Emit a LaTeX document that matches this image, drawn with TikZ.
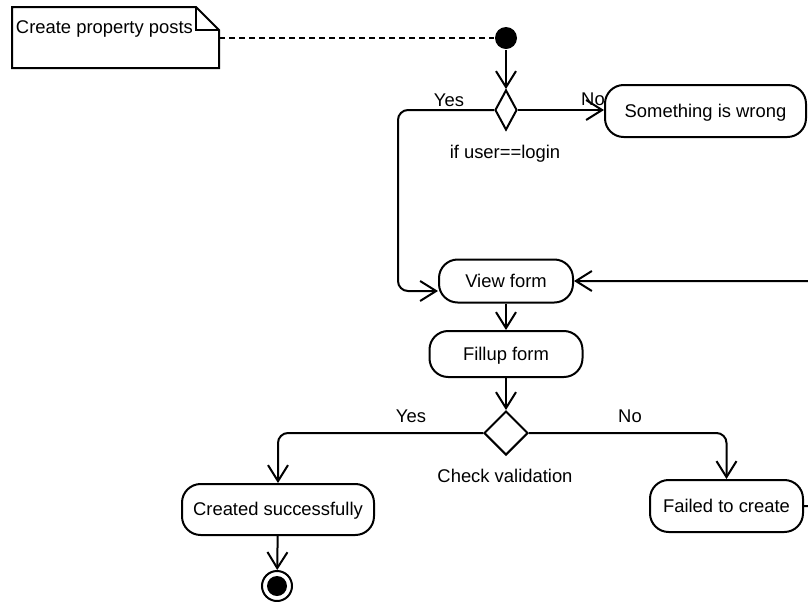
\documentclass[tikz,border=0pt]{standalone}
\usepackage{fontspec}
\setmainfont{Liberation Sans}
\usetikzlibrary{shapes.geometric,arrows.meta,calc}

\tikzset{every picture/.style={line width=1.5pt}}
\tikzset{
  act/.style={draw, fill=white, rounded corners=14pt, inner sep=0pt, text height=10pt, text depth=0.5pt, font=\fontsize{13.8}{16}\selectfont},
  choice/.style={diamond, draw, fill=white, inner sep=0pt},
  lbl/.style={inner sep=0.75pt, font=\fontsize{13.8}{16}\selectfont},
  flow/.style={-{Straight Barb[length=12pt,width=15pt]}, rounded corners=7.5pt}
}

\begin{document}
\begin{tikzpicture}[x=0.75pt,y=0.75pt,yscale=-1,xscale=1]
			\useasboundingbox (0,0) rectangle (808,601);
			\clip (0,0) rectangle (808,601);

			%Shape: Note
			\draw  [fill=white] (12,7) -- (196,7) -- (219,30) -- (219,68) -- (12,68) -- cycle ;
			\draw   (196,7) -- (196,30) -- (219,30) ;
			\coordinate (noteR) at (219,38);
			% Text Node
			\node [lbl, anchor=west] (noteText) at (14,29) {Create property posts};

			%Shape: Circle [start]
			\node [circle, fill=black, minimum size=16.5pt, inner sep=0pt] (start) at (506,38) {};
			%Shape: Diamond [if user==login]
			\node [choice, minimum width=16.5pt, minimum height=30pt] (ifLogin) at (506,110) {};
			%Shape: Rounded Rectangle
			\node [act, minimum width=150.75pt, minimum height=39pt] (wrong) at (705.5,111) {Something is wrong};
			%Shape: Rounded Rectangle
			\node [act, minimum width=100.5pt, minimum height=32.25pt] (viewForm) at (506,281) {View form};
			%Shape: Rounded Rectangle
			\node [act, minimum width=114.75pt, minimum height=34.5pt] (fillupForm) at (506,354) {Fillup form};
			%Shape: Diamond [check validation]
			\node [choice, minimum width=33pt, minimum height=33pt] (checkVal) at (506,433) {};
			%Shape: Rounded Rectangle
			\node [act, minimum width=144pt, minimum height=38.25pt] (created) at (278,509.5) {Created successfully};
			%Shape: Rounded Rectangle
			\node [act, minimum width=114.75pt, minimum height=39pt] (failed) at (726.5,506) {Failed to create};
			%Shape: Circle [finish]
			\node [circle, draw, fill=white, minimum size=22.5pt, inner sep=0pt] (finish) at (277,586) {};
			\node [circle, fill=black, minimum size=15pt, inner sep=0pt] (finishDot) at (finish) {};

			% Text Node
			\node [lbl] (yesLogin) at (449,100) {Yes};
			% Text Node
			\node [lbl] (noLogin) at (593,99) {No};
			% Text Node
			\node [lbl] (condLogin) at (505,154) {if user==login};
			% Text Node
			\node [lbl] (yesValid) at (411,416) {Yes};
			% Text Node
			\node [lbl] (noValid) at (630,416) {No};
			% Text Node
			\node [lbl] (condValid) at (505,476) {Check validation};

			%Connectors
			\draw  [dash pattern=on 4.5pt off 3pt] (noteR) -- (start) ;
			\draw  [flow] (start) -- (ifLogin) ;
			\draw  [flow] (ifLogin) -- (ifLogin -| wrong.west) ;
			\draw  [flow] (ifLogin.west) -- ++(-96,0) |- ($(viewForm.west)+(0,10)$) ;
			\draw  [flow] (viewForm) -- (fillupForm) ;
			\draw  [flow] (fillupForm) -- (checkVal) ;
			\draw  [flow] (checkVal.west) -| (created) ;
			\draw  [flow] (checkVal.east) -| (failed) ;
			\draw  [flow] (failed.east) -- ++(40,0) |- (viewForm.east) ;
			\draw  [flow] (created) -- (finish) ;
		\end{tikzpicture}
\end{document}
